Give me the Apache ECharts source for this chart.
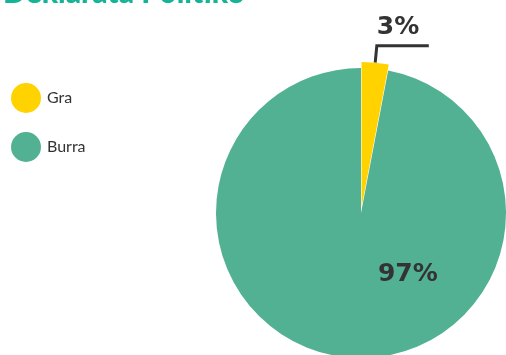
<!DOCTYPE html>
<html><head><meta charset="utf-8">
<script src="https://cdn.jsdelivr.net/npm/echarts@6/dist/echarts.min.js"></script>
<style>html,body{margin:0;padding:0;background:#fff}#c{width:506px;height:355px}</style>
</head><body><div id="c"></div>
<script>
const titleText = 'Deklarata Politike';
const categories = ['Gra', 'Burra'];
const values = [3, 97];
const colors = ['#FFD200', '#53B193'];

const chart = echarts.init(document.getElementById('c'), null, {renderer: 'canvas'});
const data = categories.map((c, i) => ({
  name: c, value: values[i], itemStyle: {color: colors[i]},
  label: i === 0 ? {
    show: true, position: 'outside', formatter: '{a|{d}%}\n{b| }',
    distanceToLabelLine: -52,
    rich: {
      a: {fontFamily: 'DejaVu Sans', fontWeight: 'bold', fontSize: 25, color: '#333', lineHeight: 36},
      b: {fontSize: 10, lineHeight: 36}
    }
  } : {
    show: true, position: 'inside', formatter: '{d}%', offset: [54, -14],
    fontFamily: 'DejaVu Sans', fontWeight: 'bold', fontSize: 25, color: '#333'
  },
  labelLine: i === 0 ? {show: true, length: 17, length2: 52, lineStyle: {color: '#333', width: 3}} : {show: false}
}));
chart.setOption({
  animation: false,
  title: {text: titleText, left: -2, top: -27, textStyle: {fontFamily: 'Lato', fontWeight: 900, fontSize: 30, color: '#16B496'}},
  legend: {
    orient: 'vertical', left: 11, top: 83, padding: 0, icon: 'circle', itemWidth: 30, itemHeight: 30, itemGap: 19,
    data: categories,
    textStyle: {fontFamily: 'Lato', fontSize: 16, color: '#333', padding: [0, 0, 0, 1]}
  },
  series: [{
    type: 'pie', center: [361, 213], radius: [0, 145], startAngle: 90, clockwise: true,
    selectedMode: 'multiple', selectedOffset: 6,
    avoidLabelOverlap: false,
    label: {show: true},
    data: data.map((d, i) => i === 0 ? Object.assign({selected: true}, d) : d)
  }]
});
</script></body></html>
